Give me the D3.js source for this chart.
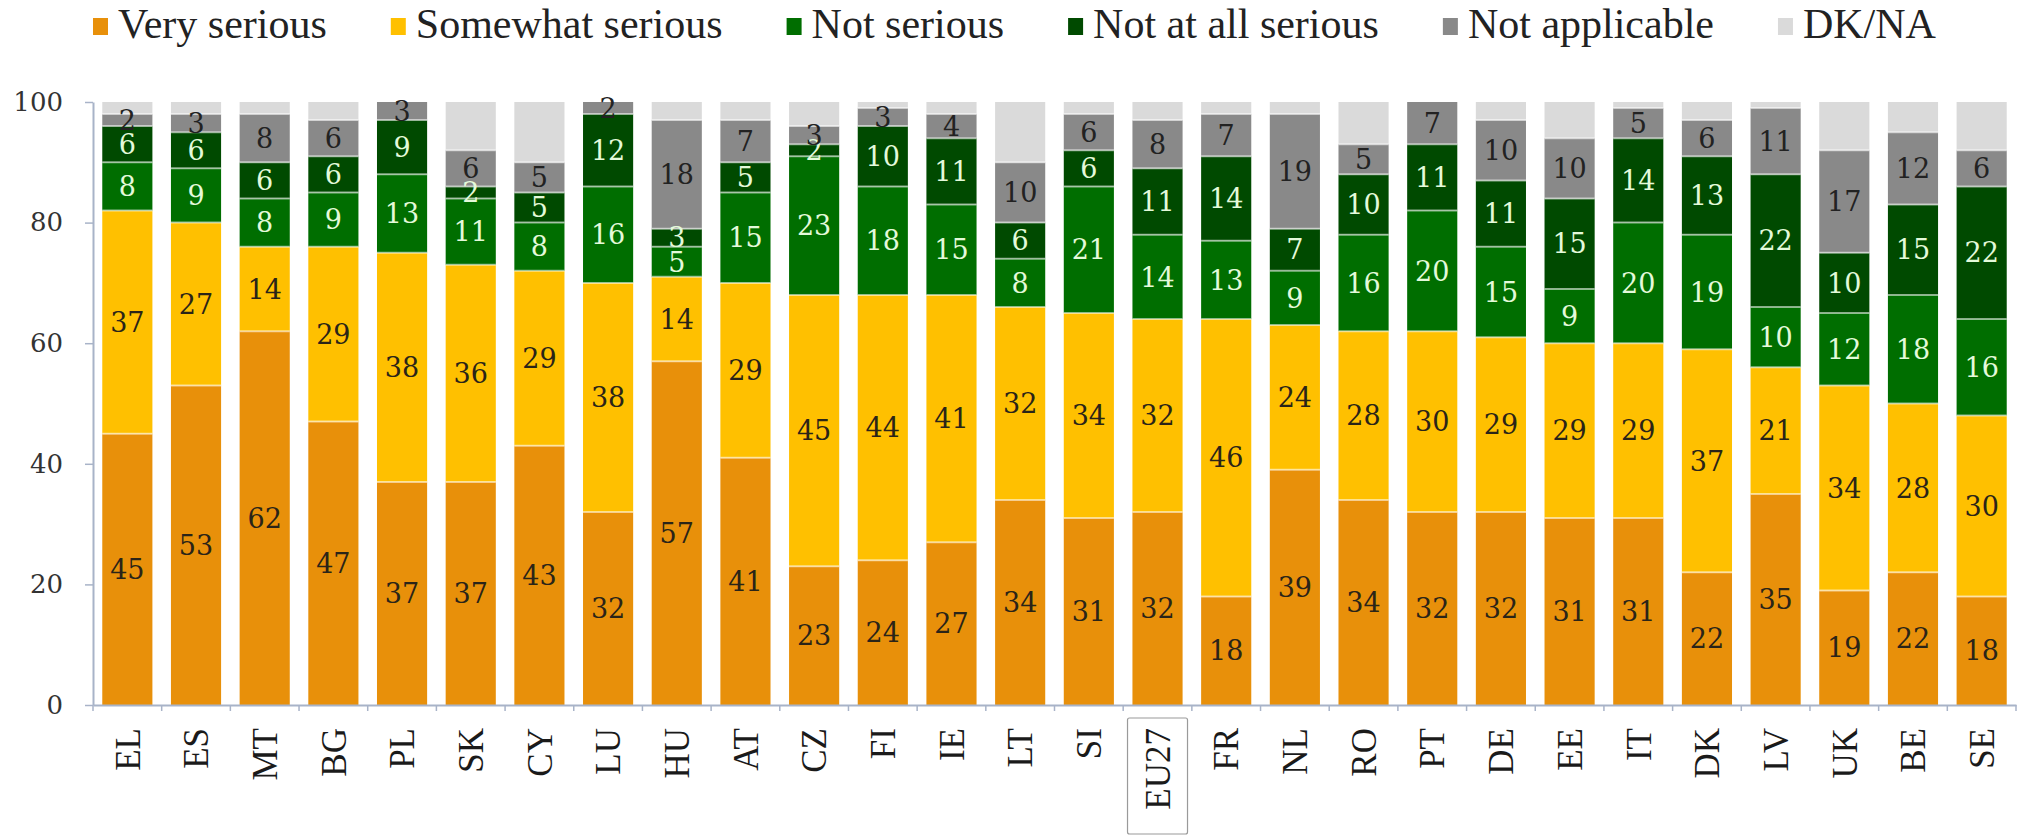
<!DOCTYPE html>
<html><head><meta charset="utf-8">
<script src="https://cdn.jsdelivr.net/npm/d3@7"></script>
<style>html,body{margin:0;padding:0;background:#fff;} svg{display:block}</style>
</head><body>
<svg id="chart" width="2028" height="835"></svg>
<script>
const categories = ["EL","ES","MT","BG","PL","SK","CY","LU","HU","AT","CZ","FI","IE","LT","SI","EU27","FR","NL","RO","PT","DE","EE","IT","DK","LV","UK","BE","SE"];
const verySerious     = [45,53,62,47,37,37,43,32,57,41,23,24,27,34,31,32,18,39,34,32,32,31,31,22,35,19,22,18];
const somewhatSerious = [37,27,14,29,38,36,29,38,14,29,45,44,41,32,34,32,46,24,28,30,29,29,29,37,21,34,28,30];
const notSerious      = [8,9,8,9,13,11,8,16,5,15,23,18,15,8,21,14,13,9,16,20,15,9,20,19,10,12,18,16];
const notAtAllSerious = [6,6,6,6,9,2,5,12,3,5,2,10,11,6,6,11,14,7,10,11,11,15,14,13,22,10,15,22];
const notApplicable   = [2,3,8,6,3,6,5,2,18,7,3,3,4,10,6,8,7,19,5,7,10,10,5,6,11,17,12,6];
const dkNa            = [2,2,2,3,0,8,10,0,3,3,4,1,2,10,2,3,2,2,7,0,3,6,1,3,1,8,5,8];
const seriesNames  = ["Very serious","Somewhat serious","Not serious","Not at all serious","Not applicable","DK/NA"];
const seriesColors = ["#E8900A","#FFC000","#006E00","#004A00","#898989","#DADADA"];
const labelColors  = ["#2a2418","#2a2418","#E4FADA","#E4FADA","#222222",null];
const yTicks = [0,20,40,60,80,100];

const seriesValues = [verySerious, somewhatSerious, notSerious, notAtAllSerious, notApplicable, dkNa];
const rows = categories.map((c,i) => {
  const r = {cat:c};
  seriesValues.forEach((arr,k) => r["s"+k] = arr[i]);
  return r;
});
const keys = seriesNames.map((n,k) => "s"+k);

const svg = d3.select("#chart");
const W = 2028, H = 835;
const margin = {left:93, right:12, top:102, bottom:130};

const x = d3.scaleBand().domain(categories).range([margin.left, W - margin.right])
  .paddingInner(0.27).paddingOuter(0.135);
const y = d3.scaleLinear().domain([0,100]).range([705, 102]);

const stacked = d3.stack().keys(keys)(rows);

const axisColor = "#A8B3C8";

// bars
const gBars = svg.append("g");
stacked.forEach((layer, k) => {
  gBars.append("g").attr("fill", seriesColors[k])
    .selectAll("rect").data(layer).join("rect")
    .attr("x", d => x(d.data.cat))
    .attr("width", x.bandwidth())
    .attr("y", d => y(d[1]))
    .attr("height", d => Math.max(0, y(d[0]) - y(d[1])));
});
// segment separators
stacked.forEach((layer, k) => {
  if (k === 0) return;
  gBars.append("g").selectAll("line").data(layer.filter(d => d[1] > d[0])).join("line")
    .attr("x1", d => x(d.data.cat)).attr("x2", d => x(d.data.cat) + x.bandwidth())
    .attr("y1", d => y(d[0])).attr("y2", d => y(d[0]))
    .attr("stroke", "#ffffff").attr("stroke-opacity", 0.55).attr("stroke-width", 2);
});

// value labels
stacked.forEach((layer, k) => {
  if (!labelColors[k]) return;
  svg.append("g").selectAll("text").data(layer.filter(d => d[1] > d[0])).join("text")
    .attr("x", d => x(d.data.cat) + x.bandwidth()/2)
    .attr("y", d => y((d[0] + d[1]) / 2))
    .attr("dy", "0.36em")
    .attr("text-anchor", "middle")
    .attr("font-family", "'DejaVu Serif', serif")
    .attr("font-size", 27)
    .attr("fill", labelColors[k])
    .text(d => d[1] - d[0]);
});

// y axis
const yAxis = svg.append("g").attr("transform", `translate(${margin.left},0)`)
  .call(d3.axisLeft(y).tickValues(yTicks).tickSize(8).tickPadding(22).tickSizeOuter(0));
yAxis.select(".domain").attr("stroke", axisColor).attr("stroke-width", 2);
yAxis.selectAll(".tick line").attr("stroke", axisColor).attr("stroke-width", 1.5);
yAxis.selectAll("text").attr("font-family", "'DejaVu Serif', serif").attr("font-size", 26).attr("fill", "#333");

// x axis
const xAxis = svg.append("g").attr("transform", `translate(0,${y(0)})`)
  .call(d3.axisBottom(x).tickSize(0).tickSizeOuter(0).tickPadding(0));
xAxis.select(".domain").attr("stroke", axisColor).attr("stroke-width", 2);
xAxis.selectAll(".tick text")
  .attr("transform", "rotate(-90)")
  .attr("text-anchor", "end")
  .attr("x", -23).attr("y", 0).attr("dy", "0.35em")
  .attr("font-family", "'Liberation Serif', serif")
  .attr("font-size", 35)
  .attr("fill", "#1a1a1a");
// boundary ticks
const gap = (x.step() - x.bandwidth()) / 2;
const bounds = categories.map(c => x(c) - gap).concat([x(categories[categories.length-1]) + x.bandwidth() + gap]);
xAxis.append("g").selectAll("line").data(bounds).join("line")
  .attr("x1", d => d).attr("x2", d => d).attr("y1", 0).attr("y2", 6)
  .attr("stroke", axisColor).attr("stroke-width", 1.5);
// EU27 box
xAxis.selectAll(".tick").filter(d => d === "EU27").append("rect")
  .attr("x", -30).attr("y", 13).attr("width", 60).attr("height", 116)
  .attr("fill", "none").attr("stroke", "#9a9a9a").attr("stroke-width", 1.2).attr("rx", 2);

// legend
const legend = svg.append("g");
let lx = 93;
seriesNames.forEach((name, k) => {
  const g = legend.append("g");
  g.append("rect").attr("x", lx).attr("y", 18).attr("width", 15).attr("height", 17).attr("fill", seriesColors[k]);
  const t = g.append("text").attr("x", lx + 25).attr("y", 38)
    .attr("font-family", "'Liberation Serif', serif").attr("font-size", 42).attr("fill", "#222")
    .text(name);
  lx = lx + 25 + t.node().getComputedTextLength() + 64;
});
</script>
</body></html>
